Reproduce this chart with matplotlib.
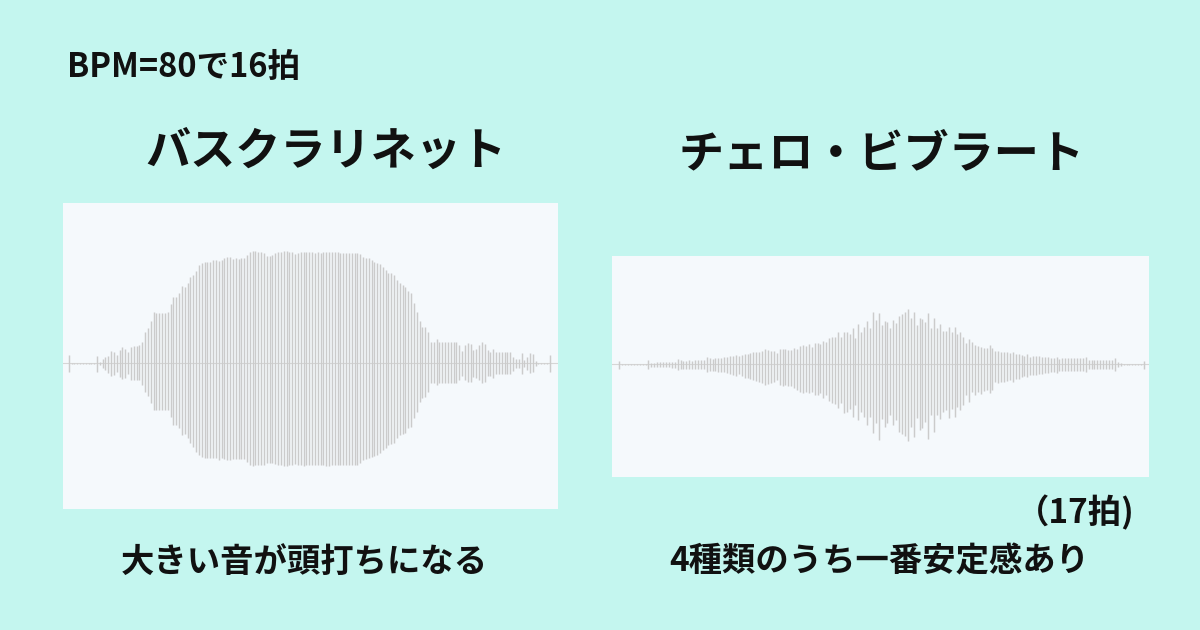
import numpy as np
import matplotlib
matplotlib.use("Agg")
import matplotlib.pyplot as plt

plt.rcParams['font.family'] = ['Noto Sans CJK JP', 'DejaVu Sans']

# Waveform peaks (one value per bin, upper and lower half, in pixels of the original)
clarinet_top = [
    8, 0.5, 0.5, 0.5, 0.5, 0.5, 0.5, 0.5, 0.5, 0.5,
    7.7, 1.7, 4, 6, 7.3, 12.3, 11.7, 8.3, 13.3, 16.7,
    14.7, 11, 16.3, 17.7, 17.7, 18.3, 21.7, 31, 35, 42.3,
    51, 50.7, 50.7, 50.3, 50.3, 51.7, 59, 66.7, 66.7, 70,
    77.7, 76, 80, 86, 88.3, 92.3, 98.3, 100, 101, 101.7,
    101.7, 103, 103.3, 102.7, 103.7, 105, 106.3, 106, 104.3, 105,
    104.3, 105, 105, 108.3, 111, 112.7, 112.3, 111.7, 111.7, 110,
    107.7, 107.7, 108.3, 110, 111.7, 111.7, 112.3, 112.3, 111.7, 111,
    109, 110, 111.7, 111.7, 111, 111, 111, 110, 111.7, 110,
    111, 111.7, 111.7, 111.7, 111, 111, 110, 110, 110, 110,
    110, 110, 110, 109.3, 106.7, 105.7, 105, 103.3, 101.7, 100.7,
    99, 96.7, 93.3, 90.7, 90, 88, 83.3, 80, 78.3, 76.7,
    72.3, 70, 60, 51.7, 42.3, 36.7, 36.7, 31, 21.7, 21.7,
    24, 21.7, 21.7, 21.7, 21.7, 21.7, 21.7, 21, 18.3, 12.3,
    18.3, 20, 19, 13.3, 14.3, 18.3, 21, 19, 13.3, 11.7,
    14.3, 11, 11, 11, 11, 11, 11, 6.7, 4.3, 4,
    10, 3.3, 6.7, 10, 9.3, 2.3, 0.5, 0.5, 0.5, 0.5,
    8.3,
]
clarinet_bottom = [
    9, 0.5, 0.5, 0.5, 0.5, 0.5, 0.5, 0.5, 0.5, 0.5,
    9, 1.7, 4.3, 6.7, 10, 12.3, 11.7, 8.3, 13.3, 16,
    15, 11, 16.7, 16.7, 16.7, 16.7, 21.7, 28.3, 32.3, 40,
    46.7, 46.7, 46.7, 46.7, 46.7, 46.7, 53.3, 61.7, 61.7, 65,
    71.7, 71, 75, 80, 83.3, 88.3, 91.7, 93.3, 94.3, 95,
    95, 95, 95, 96.7, 95, 96, 96.7, 96.7, 95.7, 95.7,
    95.7, 95.7, 95.7, 99, 101.7, 102.3, 102, 102, 102, 102,
    100, 100, 100, 101, 102, 102, 102.3, 102.3, 102, 101.7,
    101, 101.7, 102, 102.3, 102, 102, 101.7, 101.7, 102, 101.7,
    102, 102.3, 102.3, 102, 102, 102, 102, 101.7, 101.7, 101.7,
    101.7, 101.7, 101.3, 100, 96.7, 96, 95, 94, 92.3, 91.5,
    90, 86.7, 84.3, 81.7, 80.3, 80, 75, 71.7, 71, 70,
    65, 63.3, 55, 48.3, 38.3, 34.3, 33.3, 28.3, 20, 20,
    21.7, 19.5, 19.5, 19.5, 19.5, 19.5, 19.5, 19.5, 16.7, 12.3,
    16.7, 18.3, 18.3, 13.3, 14.3, 16.7, 19.3, 18.3, 12.3, 12.7,
    14.3, 11, 11, 11, 11, 11, 11, 7.7, 5, 5,
    11, 4, 6.7, 10, 9, 2.7, 0.5, 0.5, 0.5, 0.5,
    9,
]
cello_top = [
    3.7, 0.5, 0.5, 0.5, 0.5, 0.5, 0.5, 0.5, 0.5, 0.5,
    4.3, 1.7, 1.7, 2, 2, 2, 2, 2, 2.7, 2.7,
    5.3, 4, 3.7, 3.7, 4, 3.7, 4, 4, 4.3, 4.7,
    7.3, 6, 5.7, 6, 6.3, 6.3, 7, 7.3, 8, 8.3,
    9.3, 8, 9.3, 10, 10.7, 11, 12, 12, 12.7, 13.3,
    15.3, 14.3, 13.3, 13.3, 11, 15, 15.3, 15, 14.3, 14.3,
    16.7, 15.3, 18.7, 19.3, 18.7, 20, 17.7, 21, 21.7, 20.7,
    23.7, 22, 26.7, 27.7, 27.7, 32.7, 27, 32.7, 32, 30,
    36, 26, 40, 32.7, 37.7, 43.3, 36, 52, 44.3, 51,
    39.3, 43.3, 42, 36.7, 44.3, 41, 48.7, 50, 52, 55,
    46, 52, 39.3, 46.7, 45.3, 42.7, 51, 36.7, 46, 36.7,
    40, 33.3, 33.3, 37, 32, 37, 30, 32, 27.7, 21,
    25, 22, 19.3, 18.7, 17.7, 16.7, 16, 19.3, 16, 13.3,
    13.3, 12.7, 12, 12, 11, 12, 10.3, 10.7, 9.3, 8.3,
    10, 7.7, 8.3, 8.3, 8, 7.7, 7, 7, 6.7, 6,
    7.7, 5.3, 6, 6, 6, 6, 6, 6, 6, 6,
    7.3, 4.3, 4, 4, 4, 4, 4, 4, 4.3, 4,
    6, 2.7, 1.3, 0.5, 0.5, 0.5, 0.5, 0.5, 0.5, 0.5,
    3.7,
]
cello_bottom = [
    4.7, 0.5, 0.5, 0.5, 0.5, 0.5, 0.5, 0.5, 0.5, 0.5,
    4.7, 2.3, 2.3, 2.3, 2.7, 2.7, 2.7, 2.7, 3.3, 4,
    6, 4.7, 4.7, 4.7, 4.7, 4.7, 4.7, 4.7, 5, 4.7,
    8, 6.7, 6.7, 7, 7.3, 7.3, 8, 8.7, 10, 10.7,
    11.3, 9.3, 12, 13.3, 14, 14.7, 16, 16.7, 18, 18.7,
    20.7, 20, 19, 18, 15.7, 20.7, 21.3, 20.7, 21.3, 21.3,
    23.3, 25.7, 27.3, 28.3, 28, 29, 27.3, 30.7, 30.7, 29,
    34, 30.7, 36.7, 39, 40, 44, 39, 49, 47.3, 45,
    52.3, 40.7, 55.7, 47.3, 52.3, 60.7, 52.3, 69, 59, 75.7,
    54.7, 62.3, 59, 50.7, 60.7, 55.7, 67.3, 70, 71.3, 76.7,
    62.3, 72.3, 53.3, 65.7, 63.3, 58, 74.7, 50.7, 67.3, 50.7,
    54.7, 47.3, 45.7, 53.3, 45, 52.3, 43, 45.7, 40.7, 30.7,
    37.3, 27.3, 30.7, 27.3, 30, 26.7, 25.7, 29, 25.7, 18,
    19, 18, 18, 16.7, 15.7, 17.3, 14.7, 14.7, 12.3, 11.3,
    12.3, 10.7, 10.7, 10.7, 10, 9.7, 9, 8.3, 8, 7.3,
    9, 6.7, 6.7, 6.7, 6.7, 6.7, 6.7, 6.7, 6.7, 6.7,
    8, 4.7, 4.7, 4.7, 4.7, 4.7, 4.7, 4.7, 4.7, 4.7,
    6.7, 2.7, 1.3, 0.5, 0.5, 0.5, 0.5, 0.5, 0.5, 0.5,
    4.7,
]

titles = ["バスクラリネット", "チェロ・ビブラート"]
captions = ["大きい音が頭打ちになる", "4種類のうち一番安定感あり"]
header = "BPM=80で16拍"
note = "（17拍)"

BG = "#c4f6ef"
PANEL = "#f5f9fc"
BAR = "#cbcbcb"
TXT = "#111111"

W, H = 1200, 630
fig = plt.figure(figsize=(12, 6.3), dpi=100, facecolor=BG)


def px_axes(x0, y0, x1, y1):
    return fig.add_axes([x0 / W, 1 - y1 / H, (x1 - x0) / W, (y1 - y0) / H])


def draw_wave(ax, top, bottom, xlim, ylim):
    n = np.arange(len(top))
    ax.set_facecolor(PANEL)
    ax.axhline(0, color="#d6d6d6", lw=0.8, zorder=1)
    ax.vlines(n, -np.array(bottom), np.array(top), color=BAR, lw=1.05, zorder=2)
    ax.set_xlim(*xlim)
    ax.set_ylim(*ylim)
    ax.set_xticks([])
    ax.set_yticks([])
    for s in ax.spines.values():
        s.set_visible(False)


# left panel: 63..558 x 203..509, zero line at y=363, bins every 2.83 px from x=68.7
ax1 = px_axes(63, 203, 558, 509)
draw_wave(ax1, clarinet_top, clarinet_bottom,
          (-(68.7 - 63) / 2.83, (558 - 68.7) / 2.83), (-(509 - 363.3), 363.3 - 203))

# right panel: 612..1149 x 256..477, zero line at y=364, bins every 2.915 px from x=619.3
ax2 = px_axes(612, 256, 1149, 477)
draw_wave(ax2, cello_top, cello_bottom,
          (-(619.3 - 612) / 2.915, (1149 - 619.3) / 2.915), (-(477 - 364.3), 364.3 - 256))


def ftext(x, y, s, size, ha="center"):
    fig.text(x / W, 1 - y / H, s, fontsize=size, fontweight="bold", color=TXT,
             ha=ha, va="center")


ftext(67, 67, header, 23.5, ha="left")
ftext(325.5, 152, titles[0], 32.5)
ftext(881.5, 154, titles[1], 32.5)
ftext(304, 562, captions[0], 24)
ftext(879, 562, captions[1], 24)
ftext(1135, 513, note, 24, ha="right")

fig.savefig("out.png", dpi=100, facecolor=BG)
